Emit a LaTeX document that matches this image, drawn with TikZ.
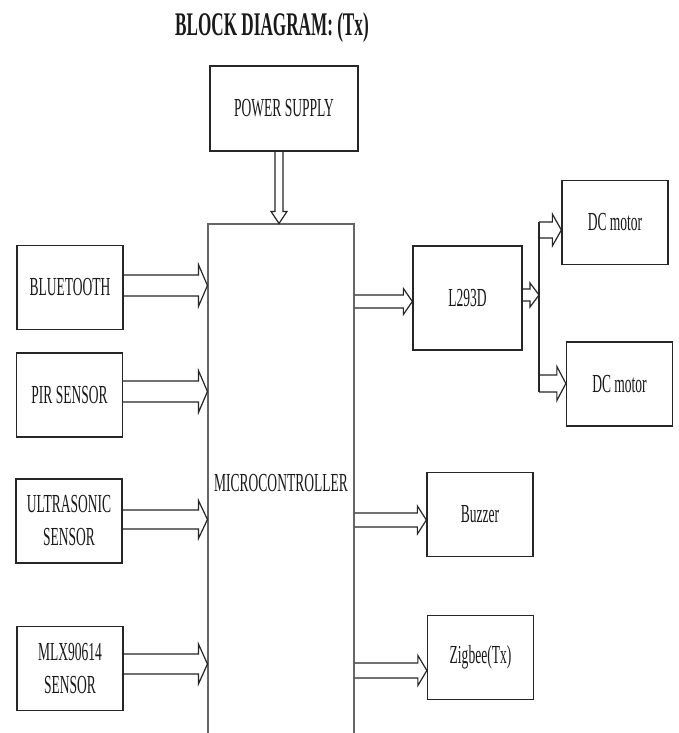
\documentclass[tikz,border=0pt]{standalone}
\usepackage{fontspec}
\setmainfont[FakeStretch=0.52]{Liberation Serif}
\usetikzlibrary{calc}

% hollow block arrows: half width, from, to, y level
\newcommand{\harrow}[4]{%
  \draw[blk] let \p1=(#2), \p2=(#3), \p3=(0,#4) in
    (\x1,\y3+#1pt) -- (\x2-9pt,\y3+#1pt) -- (\x2-9pt,\y3+2*#1pt) -- (\x2,\y3)
    -- (\x2-9pt,\y3-2*#1pt) -- (\x2-9pt,\y3-#1pt) -- (\x1,\y3-#1pt);}
\newcommand{\varrow}[3]{%
  \draw[blk] let \p1=(#2), \p2=(#3) in
    (\x2-#1pt,\y1) -- (\x2-#1pt,\y2+12pt) -- (\x2-2*#1pt,\y2+12pt) -- (\x2,\y2)
    -- (\x2+2*#1pt,\y2+12pt) -- (\x2+#1pt,\y2+12pt) -- (\x2+#1pt,\y1);}

\begin{document}
\begin{tikzpicture}[x=1pt, y=-1pt,
  box/.style={draw=black!85, line width=1.3pt, minimum width=106pt, minimum height=84pt, inner sep=2pt, align=center, text=black!90, font=\fontsize{26}{33}\selectfont},
  blk/.style={draw=black!85, line width=1.2pt, line join=miter}
]
\useasboundingbox[fill=white] (0,0) rectangle (678,733);
\clip (0,0) rectangle (678,733);

\node[font=\bfseries\fontsize{33}{37}\selectfont, text=black!90] (title) at (272,28) {BLOCK DIAGRAM: (Tx)};
\node[box, minimum width=148pt, minimum height=85pt] (ps) at (284,108.5) {POWER SUPPLY};
\node[box, draw=black!60, line width=1.1pt, minimum width=146pt, minimum height=518pt] (mcu) at (281,483) {MICROCONTROLLER};

% inputs
\node[box] (bt) at (70,287.5) {BLUETOOTH};
\node[box] (pir) at (69.5,395) {PIR SENSOR};
\node[box] (us) at (69,521) {ULTRASONIC\\SENSOR};
\node[box] (mlx) at (70,668.5) {MLX90614\\SENSOR};

% outputs
\node[box, minimum width=109pt, minimum height=104pt] (drv) at (467.5,298) {L293D};
\node[box] (m1) at (615,222.5) {DC motor};
\node[box] (m2) at (619.5,384) {DC motor};
\node[box] (buz) at (480,514.5) {Buzzer};
\node[box] (zb) at (480.5,657.5) {Zigbee(Tx)};
\coordinate (split) at (539,295);

\varrow{4}{ps.south}{$(mcu.north)+(-2,0)$}
\harrow{10.5}{bt.east}{mcu.west}{285.5}
\harrow{10.5}{pir.east}{mcu.west}{391.5}
\harrow{9.5}{us.east}{mcu.west}{519.5}
\harrow{10}{mlx.east}{mcu.west}{664}
\harrow{6.5}{mcu.east}{drv.west}{301.5}
\harrow{7}{mcu.east}{buz.west}{520}
\harrow{7.5}{mcu.east}{zb.west}{670.5}
\harrow{6}{drv.east}{split}{295}
\draw[blk] ($(split)+(0,-73)$) -- ($(split)+(0,97)$);
\harrow{8}{split}{m1.west}{230}
\harrow{8.5}{split}{m2.west}{383.5}
\end{tikzpicture}
\end{document}
